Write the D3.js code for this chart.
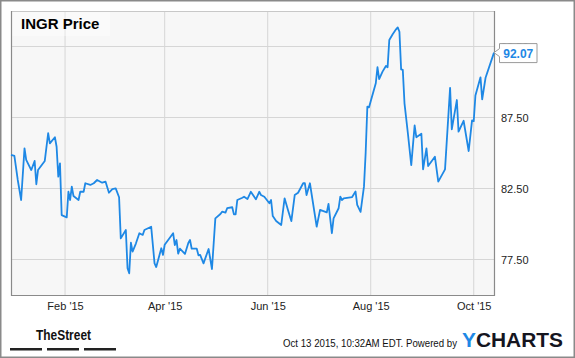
<!DOCTYPE html>
<html>
<head>
<meta charset="utf-8">
<script src="https://cdn.jsdelivr.net/npm/d3@7"></script>
<style>
  html, body { margin: 0; padding: 0; background: #fff; }
  svg { display: block; }
</style>
</head>
<body>
<script>
// INGR daily close
const dates = [
  '2014-12-31','2015-01-02','2015-01-04','2015-01-06','2015-01-08','2015-01-09','2015-01-12','2015-01-14','2015-01-15','2015-01-16',
  '2015-01-20','2015-01-22','2015-01-23','2015-01-26','2015-01-27','2015-01-28','2015-01-29','2015-01-30','2015-02-02','2015-02-03',
  '2015-02-04','2015-02-05','2015-02-06','2015-02-09','2015-02-10','2015-02-12','2015-02-13','2015-02-16','2015-02-18','2015-02-20',
  '2015-02-23','2015-02-25','2015-02-27','2015-03-01','2015-03-03','2015-03-05','2015-03-06','2015-03-09','2015-03-10','2015-03-11',
  '2015-03-12','2015-03-13','2015-03-15','2015-03-17','2015-03-19','2015-03-20','2015-03-24','2015-03-26','2015-03-27','2015-03-30',
  '2015-03-31','2015-04-01','2015-04-06','2015-04-07','2015-04-08','2015-04-09','2015-04-10','2015-04-13','2015-04-15','2015-04-16',
  '2015-04-17','2015-04-20','2015-04-21','2015-04-22','2015-04-24','2015-04-27','2015-04-29','2015-05-01','2015-05-04','2015-05-05',
  '2015-05-07','2015-05-08','2015-05-11','2015-05-12','2015-05-13','2015-05-14','2015-05-17','2015-05-18','2015-05-20','2015-05-22',
  '2015-05-25','2015-05-27','2015-05-28','2015-05-30','2015-06-02','2015-06-03','2015-06-04','2015-06-06','2015-06-09','2015-06-11',
  '2015-06-13','2015-06-15','2015-06-17','2015-06-19','2015-06-22','2015-06-23','2015-06-24','2015-06-26','2015-06-30','2015-07-02',
  '2015-07-06','2015-07-07','2015-07-09','2015-07-10','2015-07-13','2015-07-14','2015-07-15','2015-07-16','2015-07-21','2015-07-23',
  '2015-07-24','2015-07-26','2015-07-28','2015-07-29','2015-07-30','2015-07-31','2015-08-04','2015-08-05','2015-08-06','2015-08-08',
  '2015-08-10','2015-08-11','2015-08-12','2015-08-14','2015-08-16','2015-08-17','2015-08-18','2015-08-19','2015-08-20','2015-08-21',
  '2015-08-23','2015-08-25','2015-08-27','2015-08-28','2015-08-31','2015-09-01','2015-09-03','2015-09-04','2015-09-08','2015-09-10',
  '2015-09-14','2015-09-17','2015-09-18','2015-09-21','2015-09-22','2015-09-25','2015-09-28','2015-09-30','2015-10-01','2015-10-02',
  '2015-10-05','2015-10-06','2015-10-08','2015-10-13'
];
const prices = [
  84.86, 84.79, 83.10, 81.69, 85.33, 84.51, 83.80, 84.44, 82.80, 83.80,
  84.44, 86.39, 85.68, 86.11, 85.44, 83.33, 84.27, 80.63, 80.47, 82.27,
  81.69, 82.63, 81.97, 81.69, 82.27, 82.27, 82.87, 82.75, 82.87, 83.10,
  82.91, 82.98, 82.20, 82.46, 82.51, 81.88, 78.99, 79.58, 76.88, 76.53,
  78.68, 78.05, 78.64, 79.35, 79.23, 79.58, 79.81, 77.23, 76.97, 78.29,
  77.82, 78.54, 79.35, 78.52, 78.87, 77.91, 78.26, 77.89, 78.66, 78.87,
  78.26, 78.26, 77.80, 77.82, 77.23, 78.24, 76.83, 80.40, 80.70, 80.87,
  80.80, 81.11, 81.18, 80.68, 80.68, 81.69, 81.85, 81.92, 81.76, 82.27,
  81.74, 82.27, 82.04, 81.92, 81.46, 81.69, 80.56, 80.21, 79.93, 81.81,
  80.99, 80.21, 82.04, 82.20, 82.87, 82.87, 82.04, 82.87, 79.81, 80.99,
  80.82, 81.41, 79.35, 80.40, 81.11, 81.92, 81.69, 81.81, 81.90, 82.29,
  81.34, 80.85, 82.63, 85.00, 88.26, 88.22, 89.91, 91.04, 90.21, 90.73,
  91.13, 91.04, 92.96, 93.36, 93.71, 93.85, 93.54, 90.89, 90.85, 88.50,
  86.39, 84.15, 86.94, 86.11, 86.36, 83.85, 85.33, 84.08, 84.74, 82.98,
  83.85, 89.59, 86.67, 88.73, 86.50, 87.27, 85.14, 87.30, 87.25, 89.05,
  90.33, 88.78, 90.30, 92.07
];
const yTicks = [77.5, 82.5, 87.5, 92.5];
const xTicks = ['2015-02-01', '2015-04-01', '2015-06-01', '2015-08-01', '2015-10-01'];

const W = 575, H = 358;
const plot = { left: 11, right: 494, top: 11, bottom: 295 };
const blue = '#1e88e5';
const font = 'Arial, "Liberation Sans", sans-serif';

const parse = d3.timeParse('%Y-%m-%d');
const data = dates.map((d, i) => ({ date: parse(d), value: prices[i] }));

const x = d3.scaleTime()
  .domain(d3.extent(data, d => d.date))
  .range([plot.left, plot.right]);
const y = d3.scaleLinear()
  .domain([75, 95])
  .range([plot.bottom, plot.top]);

const svg = d3.select('body').append('svg')
  .attr('width', W)
  .attr('height', H)
  .attr('xmlns', 'http://www.w3.org/2000/svg');

// outer frame
svg.append('rect')
  .attr('x', 0.75).attr('y', 0.75)
  .attr('width', W - 1.5).attr('height', H - 1.5)
  .attr('fill', '#fff')
  .attr('stroke', '#8a8a8a')
  .attr('stroke-width', 1.5);

// plot background
svg.append('rect')
  .attr('x', plot.left).attr('y', plot.top)
  .attr('width', plot.right - plot.left)
  .attr('height', plot.bottom - plot.top)
  .attr('fill', '#f7f7f7');

// grid
const xTickDates = xTicks.map(parse);
svg.append('g').selectAll('line.hg')
  .data(yTicks)
  .join('line')
  .attr('x1', plot.left).attr('x2', plot.right)
  .attr('y1', d => y(d)).attr('y2', d => y(d))
  .attr('stroke', '#d6d6d6')
  .attr('stroke-width', 1);
svg.append('g').selectAll('line.vg')
  .data(xTickDates)
  .join('line')
  .attr('x1', d => x(d)).attr('x2', d => x(d))
  .attr('y1', plot.top).attr('y2', plot.bottom)
  .attr('stroke', '#d6d6d6')
  .attr('stroke-width', 1);

// title box
svg.append('rect')
  .attr('x', plot.left).attr('y', plot.top)
  .attr('width', 99).attr('height', 25)
  .attr('fill', '#fff')
  .attr('fill-opacity', 0.35);
svg.append('text')
  .attr('x', 21)
  .attr('y', 28.5)
  .attr('font-family', font)
  .attr('font-size', 15)
  .attr('font-weight', 'bold')
  .attr('fill', '#000')
  .text('INGR Price');

// plot frame
svg.append('line')
  .attr('x1', plot.left).attr('x2', plot.right)
  .attr('y1', plot.top + 0.5).attr('y2', plot.top + 0.5)
  .attr('stroke', '#c8c8c8');
svg.append('path')
  .attr('d', `M${plot.left + 0.5},${plot.top}V${plot.bottom + 0.5}H${plot.right + 0.5}V${plot.top}`)
  .attr('fill', 'none')
  .attr('stroke', '#8a8a8a')
  .attr('stroke-width', 1.2);

// price line
svg.append('path')
  .datum(data)
  .attr('fill', 'none')
  .attr('stroke', blue)
  .attr('stroke-width', 1.8)
  .attr('stroke-linejoin', 'round')
  .attr('d', d3.line().x(d => x(d.date)).y(d => y(d.value)));

// x axis
const xAxis = svg.append('g')
  .attr('transform', `translate(0,${plot.bottom})`)
  .call(d3.axisBottom(x).tickValues(xTickDates).tickFormat(d3.timeFormat("%b '%y")).tickSize(0).tickPadding(7));
xAxis.select('.domain').remove();
xAxis.selectAll('text')
  .attr('font-family', font)
  .attr('font-size', 11)
  .attr('fill', '#222');

// y axis (right); the top label sits under the last-value callout
const yAxis = svg.append('g')
  .attr('transform', `translate(${plot.right},0)`)
  .call(d3.axisRight(y).tickValues(yTicks).tickFormat(d3.format('.2f')).tickSize(0).tickPadding(7));
yAxis.select('.domain').remove();
yAxis.selectAll('text')
  .attr('font-family', font)
  .attr('font-size', 11)
  .attr('fill', '#222');

// last value callout
const last = data[data.length - 1];
const lx = x(last.date), ly = y(last.value);
const bx = lx + 5.5, bw = 37.5, bh = 19, by = ly - 9;
svg.append('path')
  .attr('d', `M${lx},${ly}L${bx},${ly - 4}V${by}H${bx + bw}V${by + bh}H${bx}V${ly + 4}Z`)
  .attr('fill', '#fff')
  .attr('stroke', '#9a9a9a')
  .attr('stroke-width', 1);
svg.append('text')
  .attr('x', bx + bw / 2)
  .attr('y', by + 14)
  .attr('text-anchor', 'middle')
  .attr('font-family', font)
  .attr('font-size', 12)
  .attr('font-weight', 'bold')
  .attr('fill', blue)
  .text(d3.format('.2f')(last.value));

// footer: TheStreet logo
svg.append('text')
  .attr('x', 36)
  .attr('y', 340)
  .attr('font-family', font)
  .attr('font-size', 15)
  .attr('font-weight', 'bold')
  .attr('fill', '#111')
  .attr('textLength', 55)
  .attr('lengthAdjust', 'spacingAndGlyphs')
  .text('TheStreet');
[10, 47, 84].forEach(bx0 => {
  svg.append('rect')
    .attr('x', bx0).attr('y', 348)
    .attr('width', 32).attr('height', 2.5)
    .attr('fill', '#222');
});

// footer: timestamp + YCHARTS
svg.append('text')
  .attr('x', 283)
  .attr('y', 346.5)
  .attr('font-family', font)
  .attr('font-size', 10)
  .attr('fill', '#111')
  .attr('textLength', 174)
  .attr('lengthAdjust', 'spacingAndGlyphs')
  .text('Oct 13 2015, 10:32AM EDT. Powered by');
const yc = svg.append('text')
  .attr('x', 462)
  .attr('y', 347)
  .attr('font-family', font)
  .attr('font-size', 20)
  .attr('font-weight', 'bold')
  .attr('textLength', 101)
  .attr('lengthAdjust', 'spacingAndGlyphs');
yc.append('tspan').attr('fill', '#1e88e5').text('Y');
yc.append('tspan').attr('fill', '#15151f').text('CHARTS');
</script>
</body>
</html>
